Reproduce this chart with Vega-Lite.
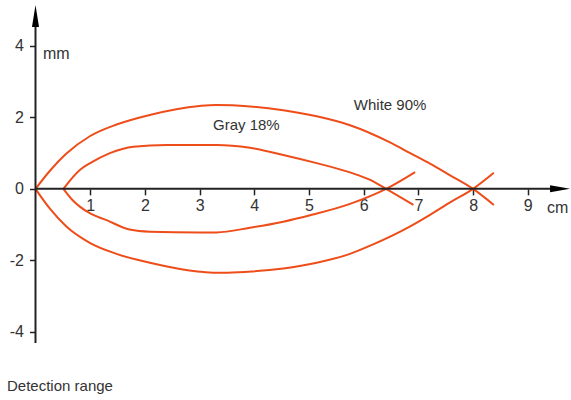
{
  "$schema": "https://vega.github.io/schema/vega-lite/v6.json",
  "width": 571,
  "height": 400,
  "autosize": {"type": "none"},
  "padding": 0,
  "background": "white",
  "config": {"view": {"stroke": null}},
  "datasets": {
    "one": [{}],
    "curves": [
      {"series": "White 90% upper", "x": 0, "y": 0},
      {"series": "White 90% upper", "x": 0.26, "y": 0.5},
      {"series": "White 90% upper", "x": 0.56, "y": 0.98},
      {"series": "White 90% upper", "x": 1.0, "y": 1.48},
      {"series": "White 90% upper", "x": 1.48, "y": 1.8},
      {"series": "White 90% upper", "x": 2.09, "y": 2.07},
      {"series": "White 90% upper", "x": 3.0, "y": 2.32},
      {"series": "White 90% upper", "x": 3.3, "y": 2.35},
      {"series": "White 90% upper", "x": 3.6, "y": 2.34},
      {"series": "White 90% upper", "x": 4.53, "y": 2.2},
      {"series": "White 90% upper", "x": 5.14, "y": 2.03},
      {"series": "White 90% upper", "x": 5.75, "y": 1.78},
      {"series": "White 90% upper", "x": 6.48, "y": 1.3},
      {"series": "White 90% upper", "x": 6.85, "y": 1.0},
      {"series": "White 90% upper", "x": 7.22, "y": 0.7},
      {"series": "White 90% upper", "x": 7.58, "y": 0.38},
      {"series": "White 90% upper", "x": 8.0, "y": 0},
      {"series": "White 90% upper", "x": 8.38, "y": -0.45},
      {"series": "White 90% lower", "x": 0, "y": 0},
      {"series": "White 90% lower", "x": 0.26, "y": -0.55},
      {"series": "White 90% lower", "x": 0.56, "y": -1.05},
      {"series": "White 90% lower", "x": 1.0, "y": -1.52},
      {"series": "White 90% lower", "x": 1.48, "y": -1.82},
      {"series": "White 90% lower", "x": 2.09, "y": -2.07},
      {"series": "White 90% lower", "x": 3.0, "y": -2.32},
      {"series": "White 90% lower", "x": 3.3, "y": -2.35},
      {"series": "White 90% lower", "x": 3.6, "y": -2.34},
      {"series": "White 90% lower", "x": 4.53, "y": -2.23},
      {"series": "White 90% lower", "x": 5.14, "y": -2.07},
      {"series": "White 90% lower", "x": 5.75, "y": -1.82},
      {"series": "White 90% lower", "x": 6.12, "y": -1.59},
      {"series": "White 90% lower", "x": 6.85, "y": -1.05},
      {"series": "White 90% lower", "x": 7.22, "y": -0.72},
      {"series": "White 90% lower", "x": 7.58, "y": -0.38},
      {"series": "White 90% lower", "x": 8.0, "y": 0},
      {"series": "White 90% lower", "x": 8.38, "y": 0.45},
      {"series": "Gray 18% upper", "x": 0.51, "y": 0},
      {"series": "Gray 18% upper", "x": 0.81, "y": 0.53},
      {"series": "Gray 18% upper", "x": 1.0, "y": 0.72},
      {"series": "Gray 18% upper", "x": 1.36, "y": 1.0},
      {"series": "Gray 18% upper", "x": 1.79, "y": 1.18},
      {"series": "Gray 18% upper", "x": 2.4, "y": 1.23},
      {"series": "Gray 18% upper", "x": 3.31, "y": 1.23},
      {"series": "Gray 18% upper", "x": 3.92, "y": 1.15},
      {"series": "Gray 18% upper", "x": 4.53, "y": 0.95},
      {"series": "Gray 18% upper", "x": 5.14, "y": 0.72},
      {"series": "Gray 18% upper", "x": 5.75, "y": 0.46},
      {"series": "Gray 18% upper", "x": 6.12, "y": 0.25},
      {"series": "Gray 18% upper", "x": 6.41, "y": 0},
      {"series": "Gray 18% upper", "x": 6.91, "y": -0.45},
      {"series": "Gray 18% lower", "x": 0.51, "y": 0},
      {"series": "Gray 18% lower", "x": 0.68, "y": -0.32},
      {"series": "Gray 18% lower", "x": 1.0, "y": -0.69},
      {"series": "Gray 18% lower", "x": 1.29, "y": -0.87},
      {"series": "Gray 18% lower", "x": 1.72, "y": -1.14},
      {"series": "Gray 18% lower", "x": 2.09, "y": -1.2},
      {"series": "Gray 18% lower", "x": 3.0, "y": -1.22},
      {"series": "Gray 18% lower", "x": 3.31, "y": -1.22},
      {"series": "Gray 18% lower", "x": 3.92, "y": -1.09},
      {"series": "Gray 18% lower", "x": 4.53, "y": -0.92},
      {"series": "Gray 18% lower", "x": 5.02, "y": -0.74},
      {"series": "Gray 18% lower", "x": 5.75, "y": -0.42},
      {"series": "Gray 18% lower", "x": 6.41, "y": 0},
      {"series": "Gray 18% lower", "x": 6.94, "y": 0.47}
    ]
  },
  "layer": [
    {
      "data": {"name": "curves"},
      "mark": {"type": "line", "interpolate": "monotone", "color": "#ee4d1a", "strokeWidth": 2},
      "encoding": {
        "x": {
          "field": "x", "type": "quantitative",
          "scale": {"domain": [-0.649, 9.79], "nice": false, "zero": false},
          "axis": {
            "values": [1, 2, 3, 4, 5, 6, 7, 8, 9], "domain": false, "grid": false,
            "offset": -211.15, "tickSize": 6, "tickColor": "#222", "tickWidth": 1.5,
            "labelFont": "Liberation Sans", "labelFontSize": 16, "labelColor": "#333",
            "labelPadding": 3, "title": null,
            "labelExpr": "'' + datum.value"
          }
        },
        "y": {
          "field": "y", "type": "quantitative",
          "scale": {"domain": [-5.913, 5.288], "nice": false, "zero": false},
          "axis": {
            "values": [-4, -2, 0, 2, 4], "domain": false, "grid": false,
            "offset": -35.5, "tickSize": 6, "tickColor": "#222", "tickWidth": 1.5,
            "labelFont": "Liberation Sans", "labelFontSize": 16, "labelColor": "#333",
            "labelPadding": 6, "title": null,
            "labelExpr": "datum.value < 0 ? '-' + abs(datum.value) : '' + datum.value"
          }
        },
        "detail": {"field": "series", "type": "nominal"}
      }
    },
    {
      "data": {"name": "one"},
      "mark": {"type": "rule", "color": "#222", "strokeWidth": 2},
      "encoding": {"x": {"datum": 0}, "x2": {"datum": 9.5}, "y": {"datum": 0}}
    },
    {
      "data": {"name": "one"},
      "mark": {"type": "rule", "color": "#222", "strokeWidth": 2},
      "encoding": {"x": {"datum": 0}, "y": {"datum": -4.32}, "y2": {"datum": 4.6}}
    },
    {
      "data": {"name": "one"},
      "mark": {"type": "point", "shape": "M -1 -0.35 L 1 0 L -1 0.35 Z", "size": 400, "filled": true, "color": "#000", "opacity": 1, "strokeWidth": 0},
      "encoding": {"x": {"datum": 9.59}, "y": {"datum": 0}}
    },
    {
      "data": {"name": "one"},
      "mark": {"type": "point", "shape": "M -0.32 1 L 0 -1 L 0.32 1 Z", "size": 484, "filled": true, "color": "#000", "opacity": 1, "strokeWidth": 0},
      "encoding": {"x": {"datum": 0}, "y": {"datum": 4.84}}
    },
    {
      "data": {"name": "one"},
      "mark": {"type": "text", "text": "mm", "align": "left", "baseline": "alphabetic", "font": "Liberation Sans", "fontSize": 16, "color": "#333"},
      "encoding": {"x": {"datum": 0.137}, "y": {"datum": 3.636}}
    },
    {
      "data": {"name": "one"},
      "mark": {"type": "text", "text": "cm", "align": "left", "baseline": "alphabetic", "font": "Liberation Sans", "fontSize": 16, "color": "#333"},
      "encoding": {"x": {"datum": 9.35}, "y": {"datum": -0.68}}
    },
    {
      "data": {"name": "one"},
      "mark": {"type": "text", "text": "White 90%", "align": "left", "baseline": "alphabetic", "font": "Liberation Sans", "fontSize": 15, "color": "#333"},
      "encoding": {"x": {"datum": 5.82}, "y": {"datum": 2.22}}
    },
    {
      "data": {"name": "one"},
      "mark": {"type": "text", "text": "Gray 18%", "align": "left", "baseline": "alphabetic", "font": "Liberation Sans", "fontSize": 15, "color": "#333"},
      "encoding": {"x": {"datum": 3.245}, "y": {"datum": 1.66}}
    },
    {
      "data": {"name": "one"},
      "mark": {"type": "text", "text": "Detection range", "align": "left", "baseline": "alphabetic", "font": "Liberation Sans", "fontSize": 15, "color": "#333"},
      "encoding": {"x": {"datum": -0.521}, "y": {"datum": -5.66}}
    }
  ]
}
